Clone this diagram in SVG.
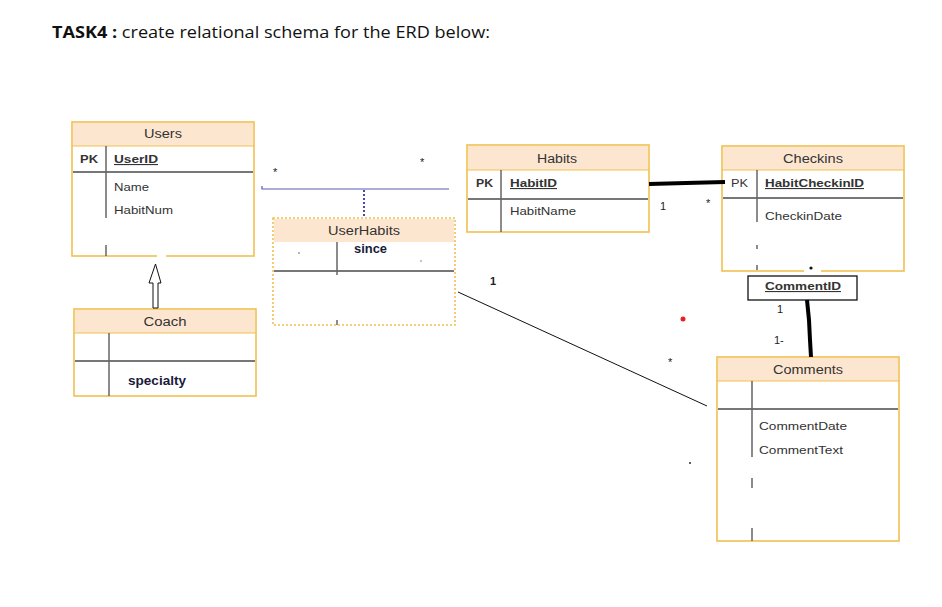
<svg xmlns="http://www.w3.org/2000/svg" width="942" height="607" viewBox="0 0 942 607">
<style>
.box{fill:#fff;stroke:#f0c050;stroke-width:1.6}
.dbox{fill:#fff;stroke:#f0c050;stroke-width:1.6;stroke-dasharray:2 2}
.hdr{fill:#fde6cf}
.div{stroke:#666;stroke-width:1.5;fill:none}
.row{stroke:#777;stroke-width:2;fill:none}
.t{font-family:"Liberation Sans",Arial,sans-serif;font-size:11px;fill:#333}
.h{font-family:"Liberation Sans",Arial,sans-serif;font-size:12px;fill:#333}
.b{font-weight:bold}
.u{text-decoration:underline}
.c{font-family:"Liberation Sans",Arial,sans-serif;font-weight:bold;fill:#1a1a3a}
.m{font-family:"Liberation Sans",Arial,sans-serif;font-size:11px;fill:#222}
</style>
<rect width="942" height="607" fill="#fff"/>
<text x="52" y="38" font-family="Open Sans,Liberation Sans,Arial,sans-serif" font-size="16" fill="#111" textLength="438" lengthAdjust="spacingAndGlyphs"><tspan font-weight="bold">TASK4 :</tspan> create relational schema for the ERD below:</text>

<g id="users">
<rect class="box" x="72" y="122" width="182" height="134"/>
<rect class="hdr" x="73" y="123" width="180" height="23"/>
<line x1="72" y1="146" x2="254" y2="146" stroke="#f0c050" stroke-width="1.2"/>
<line class="row" x1="73" y1="172" x2="253" y2="172"/>
<path class="div" d="M106 146V218M106 245V256"/>
<line x1="157" y1="256" x2="166" y2="256" stroke="#fff" stroke-width="2.5"/>
<text class="h" x="163" y="138" text-anchor="middle" textLength="38" lengthAdjust="spacingAndGlyphs">Users</text>
<text class="t b" x="80" y="163" textLength="18" lengthAdjust="spacingAndGlyphs">PK</text>
<text class="t b u" x="114" y="163" textLength="44" lengthAdjust="spacingAndGlyphs">UserID</text>
<text class="t" x="114" y="191" textLength="35" lengthAdjust="spacingAndGlyphs">Name</text>
<text class="t" x="114" y="214" textLength="59" lengthAdjust="spacingAndGlyphs">HabitNum</text>
</g>

<g id="coach">
<rect class="box" x="74" y="309" width="182" height="87"/>
<rect class="hdr" x="75" y="310" width="180" height="23"/>
<line x1="74" y1="333" x2="256" y2="333" stroke="#f0c050" stroke-width="1.2"/>
<line class="row" x1="75" y1="361" x2="255" y2="361"/>
<path class="div" d="M109 333V396"/>
<text class="h" x="165" y="326" text-anchor="middle" textLength="43" lengthAdjust="spacingAndGlyphs">Coach</text>
<text class="c" x="128" y="385" font-size="13" textLength="58" lengthAdjust="spacingAndGlyphs">specialty</text>
</g>

<g id="userhabits">
<rect class="dbox" x="273" y="218" width="182" height="107"/>
<rect class="hdr" x="274" y="219" width="180" height="23"/>
<line class="row" x1="274" y1="271" x2="454" y2="271"/>
<path class="div" d="M337 242V275M337 320V325"/>
<text class="h" x="364" y="235" text-anchor="middle" textLength="72" lengthAdjust="spacingAndGlyphs">UserHabits</text>
<text class="c" x="354" y="253" font-size="13" textLength="33" lengthAdjust="spacingAndGlyphs">since</text>
<circle cx="299" cy="253" r="0.8" fill="#555"/>
<circle cx="421" cy="261" r="0.9" fill="#aaa"/>
</g>

<g id="habits">
<rect class="box" x="467" y="145" width="182" height="87"/>
<rect class="hdr" x="468" y="146" width="180" height="24"/>
<line x1="467" y1="170" x2="649" y2="170" stroke="#f0c050" stroke-width="1.2"/>
<line class="row" x1="468" y1="199" x2="648" y2="199"/>
<path class="div" d="M501 170V232"/>
<text class="h" x="557" y="163" text-anchor="middle" textLength="40" lengthAdjust="spacingAndGlyphs">Habits</text>
<text class="t b" x="476" y="187" textLength="17" lengthAdjust="spacingAndGlyphs">PK</text>
<text class="t b u" x="510" y="187" textLength="47" lengthAdjust="spacingAndGlyphs">HabitID</text>
<text class="t" x="510" y="215" textLength="66" lengthAdjust="spacingAndGlyphs">HabitName</text>
</g>

<g id="checkins">
<rect class="box" x="722" y="146" width="182" height="125"/>
<rect class="hdr" x="723" y="147" width="180" height="23"/>
<line x1="722" y1="170" x2="904" y2="170" stroke="#f0c050" stroke-width="1.2"/>
<line class="row" x1="723" y1="198" x2="903" y2="198"/>
<path class="div" d="M757 170V222M757 245V249M757 265V270"/>
<line x1="804" y1="271" x2="821" y2="271" stroke="#fff" stroke-width="2.5"/>
<circle cx="811" cy="268" r="1.6" fill="#111"/>
<text class="h" x="813" y="163" text-anchor="middle" textLength="60" lengthAdjust="spacingAndGlyphs">Checkins</text>
<text class="t" x="731" y="187" textLength="17" lengthAdjust="spacingAndGlyphs">PK</text>
<text class="t b u" x="765" y="187" textLength="99" lengthAdjust="spacingAndGlyphs">HabitCheckinID</text>
<text class="t" x="765" y="220" textLength="77" lengthAdjust="spacingAndGlyphs">CheckinDate</text>
</g>

<g id="commentid">
<rect x="748" y="276" width="109" height="24" fill="#fff" stroke="#111" stroke-width="1.3"/>
<text class="t b u" x="765" y="290" textLength="76" lengthAdjust="spacingAndGlyphs">CommentID</text>
</g>

<g id="comments">
<rect class="box" x="717" y="357" width="182" height="184"/>
<rect class="hdr" x="718" y="358" width="180" height="23"/>
<line x1="717" y1="381" x2="899" y2="381" stroke="#f0c050" stroke-width="1.2"/>
<line class="row" x1="718" y1="409" x2="898" y2="409"/>
<path class="div" d="M752 381V457M752 478V488M752 528V541"/>
<text class="h" x="808" y="374" text-anchor="middle" textLength="70" lengthAdjust="spacingAndGlyphs">Comments</text>
<text class="t" x="759" y="430" textLength="88" lengthAdjust="spacingAndGlyphs">CommentDate</text>
<text class="t" x="759" y="454" textLength="84" lengthAdjust="spacingAndGlyphs">CommentText</text>
</g>

<g id="connectors">
<polygon points="155.5,264 161,283 158,283 158,308 153,308 153,283 149,283" fill="#fff" stroke="#111" stroke-width="1"/>
<path d="M262 186V189H449" fill="none" stroke="#5a5ab4" stroke-width="1.2"/>
<line x1="364" y1="190" x2="364" y2="218" stroke="#4a4aa8" stroke-width="2" stroke-dasharray="2 2"/>
<path d="M649 184L686 183L725 182" fill="none" stroke="#000" stroke-width="4"/>
<path d="M807 300L809 320L810 340L811 357" fill="none" stroke="#000" stroke-width="4"/>
<line x1="458" y1="292" x2="707" y2="406" stroke="#111" stroke-width="1"/>
<text class="m" x="273" y="176" font-size="13">*</text>
<text class="m" x="420" y="166" font-size="13">*</text>
<text class="m" x="660" y="210">1</text>
<text class="m" x="706" y="207" font-size="12">*</text>
<text class="m b" x="490" y="285" font-size="12">1</text>
<text class="m" x="668" y="366" font-size="12">*</text>
<text class="m" x="777" y="313" font-size="10">1</text>
<text class="m" x="774" y="344" font-size="10">1-</text>
<circle cx="683" cy="319" r="2.5" fill="#e8201f"/>
<circle cx="690" cy="463" r="0.9" fill="#111"/>
</g>
</svg>
